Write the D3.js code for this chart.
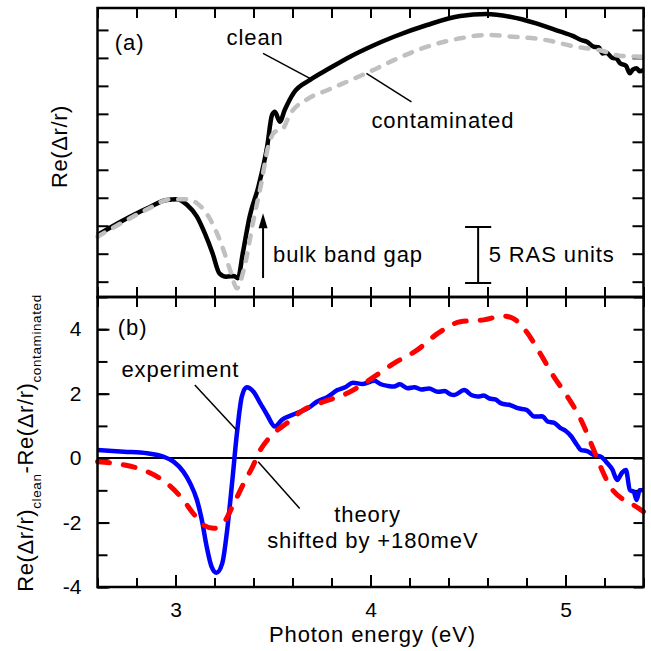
<!DOCTYPE html>
<html>
<head>
<meta charset="utf-8">
<script src="https://cdn.jsdelivr.net/npm/d3@7"></script>
<style>
  body { margin: 0; background: #fff; }
  text { font-family: "Liberation Sans", Arial, sans-serif; fill: #000; }
</style>
</head>
<body>
<div id="chart"></div>
<script>
// ---- data ----
// (a) Re(dr/r) in RAS units, arbitrary offset
const cleanEnergy = [2.60, 2.735, 2.855, 2.955, 3.005, 3.06, 3.11, 3.15, 3.19, 3.225, 3.26, 3.30, 3.32, 3.345, 3.38, 3.425, 3.47, 3.495, 3.51, 3.535, 3.56, 3.605, 3.69, 3.79, 3.895, 4.00, 4.12, 4.29, 4.46, 4.595, 4.715, 4.85, 4.975, 5.04, 5.08, 5.11, 5.145, 5.17, 5.19, 5.21, 5.24, 5.26, 5.28, 5.31, 5.33, 5.345, 5.365, 5.38, 5.40];
const cleanValue  = [4.17, 5.51, 6.56, 7.30, 7.36, 6.85, 5.81, 4.33, 2.54, 0.75, 0.45, 0.51, 0.30, 2.54, 5.81, 8.49, 12.06, 14.90, 15.19, 14.30, 15.34, 16.84, 18.03, 19.07, 20.11, 21.00, 21.89, 22.94, 23.74, 23.92, 23.68, 23.09, 22.34, 21.95, 21.60, 21.45, 21.00, 20.95, 20.40, 20.45, 20.00, 19.95, 19.52, 19.30, 18.62, 18.95, 19.07, 18.80, 18.92];

const contEnergy = [2.60, 2.735, 2.855, 2.975, 3.06, 3.11, 3.18, 3.24, 3.28, 3.315, 3.35, 3.40, 3.44, 3.475, 3.51, 3.545, 3.59, 3.675, 3.79, 3.91, 4.00, 4.12, 4.29, 4.46, 4.595, 4.73, 4.90, 5.05, 5.17, 5.29, 5.40];
const contValue  = [4.02, 5.36, 6.47, 7.36, 7.36, 7.01, 5.51, 3.13, 1.05, -0.59, 1.05, 5.51, 8.79, 12.06, 13.40, 13.56, 15.05, 16.30, 17.20, 18.10, 18.80, 19.80, 21.00, 21.75, 22.05, 21.89, 21.60, 21.00, 20.71, 20.17, 20.11];

// (b) difference clean - contaminated
const expEnergy = [2.60, 2.735, 2.855, 2.94, 2.99, 3.04, 3.075, 3.11, 3.135, 3.16, 3.185, 3.21, 3.24, 3.265, 3.29, 3.315, 3.34, 3.365, 3.40, 3.435, 3.47, 3.51, 3.545, 3.62, 3.68, 3.725, 3.78, 3.83, 3.87, 3.91, 3.96, 4.02, 4.05, 4.09, 4.12, 4.15, 4.19, 4.225, 4.26, 4.30, 4.345, 4.38, 4.41, 4.43, 4.48, 4.52, 4.55, 4.58, 4.61, 4.64, 4.67, 4.72, 4.755, 4.80, 4.84, 4.88, 4.91, 4.94, 4.975, 5.00, 5.03, 5.06, 5.08, 5.11, 5.145, 5.18, 5.215, 5.24, 5.265, 5.29, 5.31, 5.33, 5.35, 5.365, 5.38, 5.40];
const expValue  = [0.25, 0.20, 0.15, 0.04, -0.11, -0.42, -0.78, -1.30, -1.92, -2.75, -3.37, -3.56, -3.26, -2.23, -0.78, 0.77, 1.91, 2.20, 2.06, 1.70, 1.34, 0.98, 1.18, 1.39, 1.55, 1.75, 1.90, 2.11, 2.20, 2.34, 2.30, 2.40, 2.30, 2.24, 2.22, 2.29, 2.17, 2.20, 2.13, 2.16, 2.06, 2.08, 1.98, 1.96, 2.11, 1.95, 1.91, 1.94, 1.85, 1.82, 1.70, 1.64, 1.55, 1.50, 1.29, 1.30, 1.13, 1.10, 0.93, 0.85, 0.67, 0.40, 0.25, 0.22, 0.10, 0.05, -0.16, -0.35, -0.68, -0.45, -0.37, -0.99, -1.05, -1.30, -1.00, -0.99];

const theoryEnergy = [2.60, 2.735, 2.855, 2.955, 3.04, 3.09, 3.145, 3.195, 3.245, 3.30, 3.35, 3.395, 3.435, 3.495, 3.57, 3.655, 3.76, 3.88, 4.00, 4.12, 4.24, 4.345, 4.46, 4.58, 4.68, 4.73, 4.80, 4.87, 4.94, 5.01, 5.08, 5.145, 5.18, 5.23, 5.30, 5.35, 5.40];
const theoryValue  = [-0.11, -0.21, -0.42, -0.78, -1.30, -1.71, -2.08, -2.18, -2.02, -1.40, -0.78, -0.27, 0.25, 0.72, 1.08, 1.49, 1.75, 2.01, 2.45, 2.94, 3.36, 3.87, 4.23, 4.29, 4.41, 4.34, 3.92, 3.25, 2.53, 1.91, 1.18, 0.25, -0.27, -0.89, -1.30, -1.46, -1.66];

// ticks
const xMinorTicks = d3.range(2.6, 5.401, 0.2);
const xLabelTicks = [3, 4, 5];
const topYTicks = d3.range(0, 22.6, 2.5);
const botYMinorTicks = d3.range(-4, 5.01, 1);
const botYLabelTicks = [-4, -2, 0, 2, 4];

/**
 * Basic settings
 */
const canvasWidth = 651;
const canvasHeight = 651;
const plotLeft = 97.5, plotRight = 643.5, plotTop = 8, plotMid = 297, plotBottom = 587;

const svg = d3.select("#chart")
  .append("svg")
  .attr("width", canvasWidth)
  .attr("height", canvasHeight);

const x = d3.scaleLinear().domain([2.6, 5.4]).range([plotLeft, plotRight]);
const yTop = d3.scaleLinear().domain([-1.37, 24.46]).range([plotMid, plotTop]);
const yBot = d3.scaleLinear().domain([-4, 5]).range([plotBottom, plotMid]);

function zip(a, b) { return a.map((e, i) => [e, b[i]]); }

function styleAxis(g) {
  g.select(".domain").remove();
  g.selectAll(".tick line").attr("stroke", "#000").attr("stroke-width", 2);
  g.selectAll(".tick text").attr("font-size", 21).attr("fill", "#000")
    .attr("font-family", "'Liberation Sans', Arial, sans-serif");
}

// ---- axes ticks (inward) ----
function xTicksAt(y, dir, size) {
  const ax = dir === "up" ? d3.axisBottom(x) : d3.axisTop(x);
  svg.append("g")
    .attr("transform", "translate(0," + y + ")")
    .call(ax.tickValues(xMinorTicks).tickSize(-size).tickFormat(""))
    .call(styleAxis);
}
xTicksAt(plotTop, "down", 10);
xTicksAt(plotMid, "up", 10);
xTicksAt(plotMid, "down", 10);
xTicksAt(plotBottom, "up", 9);

// labeled bottom axis
svg.append("g")
  .attr("transform", "translate(0," + plotBottom + ")")
  .call(d3.axisBottom(x).tickValues(xLabelTicks).tickSize(-12).tickPadding(15).tickFormat(d => String(d)))
  .call(styleAxis);

// top panel y ticks
svg.append("g").attr("transform", "translate(" + plotLeft + ",0)")
  .call(d3.axisLeft(yTop).tickValues(topYTicks).tickSize(-11).tickFormat(""))
  .call(styleAxis);
svg.append("g").attr("transform", "translate(" + plotRight + ",0)")
  .call(d3.axisRight(yTop).tickValues(topYTicks).tickSize(-11).tickFormat(""))
  .call(styleAxis);

// bottom panel y ticks
svg.append("g").attr("transform", "translate(" + plotLeft + ",0)")
  .call(d3.axisLeft(yBot).tickValues(botYMinorTicks).tickSize(-10).tickFormat(""))
  .call(styleAxis);
svg.append("g").attr("transform", "translate(" + plotRight + ",0)")
  .call(d3.axisRight(yBot).tickValues(botYMinorTicks).tickSize(-10).tickFormat(""))
  .call(styleAxis);
svg.append("g").attr("transform", "translate(" + plotLeft + ",0)")
  .call(d3.axisLeft(yBot).tickValues(botYLabelTicks).tickSize(-12).tickPadding(16).tickFormat(d => String(d)))
  .call(styleAxis);

// zero line
svg.append("line")
  .attr("x1", plotLeft).attr("x2", plotRight)
  .attr("y1", yBot(0)).attr("y2", yBot(0))
  .attr("stroke", "#000").attr("stroke-width", 2);

// ---- curves ----
function drawLine(yScale, data, color, dash, width) {
  svg.append("path")
    .datum(data)
    .attr("fill", "none")
    .attr("stroke", color)
    .attr("stroke-width", width)
    .attr("stroke-linecap", dash ? "round" : "butt")
    .attr("stroke-linejoin", "round")
    .attr("stroke-dasharray", dash)
    .attr("d", d3.line()
      .x(d => x(d[0]))
      .y(d => yScale(d[1]))
      .curve(d3.curveMonotoneX));
}

drawLine(yTop, zip(cleanEnergy, cleanValue), "#000", null, 4.5);
drawLine(yTop, zip(contEnergy, contValue), "#c0c0c0", "8,10", 4.5);
drawLine(yBot, zip(expEnergy, expValue), "#0000ff", null, 4.5);
drawLine(yBot, zip(theoryEnergy, theoryValue), "#ff0000", "12,14", 5);

// frames
svg.append("rect").attr("x", plotLeft).attr("y", plotTop).attr("width", plotRight - plotLeft).attr("height", plotMid - plotTop)
  .attr("fill", "none").attr("stroke", "#000").attr("stroke-width", 2.5);
svg.append("rect").attr("x", plotLeft).attr("y", plotMid).attr("width", plotRight - plotLeft).attr("height", plotBottom - plotMid)
  .attr("fill", "none").attr("stroke", "#000").attr("stroke-width", 2.5);

// ---- annotations ----
function label(str, e, v, yScale, anchor) {
  svg.append("text")
    .attr("x", x(e)).attr("y", yScale(v))
    .attr("font-size", 22)
    .attr("letter-spacing", 0.9)
    .attr("text-anchor", anchor || "start")
    .text(str);
}
function pointer(e1, v1, e2, v2, yScale) {
  svg.append("line")
    .attr("x1", x(e1)).attr("y1", yScale(v1))
    .attr("x2", x(e2)).attr("y2", yScale(v2))
    .attr("stroke", "#000").attr("stroke-width", 1.5);
}

label("(a)", 2.689, 20.7, yTop);
label("clean", 3.262, 21.15, yTop);
pointer(3.449, 20.41, 3.689, 18.17, yTop);
label("contaminated", 4.005, 13.73, yTop);
pointer(3.979, 18.62, 4.21, 16.08, yTop);

// bulk band gap arrow
svg.append("line")
  .attr("x1", x(3.449)).attr("x2", x(3.449))
  .attr("y1", yTop(0.33)).attr("y2", yTop(5))
  .attr("stroke", "#000").attr("stroke-width", 2);
svg.append("path")
  .attr("d", "M" + x(3.449) + "," + yTop(6.11) + " l-4.5,15 l9,0 z")
  .attr("fill", "#000");
label("bulk band gap", 3.50, 1.79, yTop);

// scale bar
const barE = 4.552, barLo = -0.12, barHi = 4.88, capW = 0.067;
svg.append("path")
  .attr("d", "M" + x(barE) + "," + yTop(barLo) + "V" + yTop(barHi)
    + "M" + x(barE - capW) + "," + yTop(barLo) + "H" + x(barE + capW)
    + "M" + x(barE - capW) + "," + yTop(barHi) + "H" + x(barE + capW))
  .attr("stroke", "#000").attr("stroke-width", 2).attr("fill", "none");
label("5 RAS units", 4.606, 1.79, yTop);

label("(b)", 2.704, 3.82, yBot);
label("experiment", 2.723, 2.53, yBot);
pointer(3.099, 2.27, 3.313, 0.87, yBot);
pointer(3.424, -0.11, 3.637, -1.56, yBot);
label("theory", 3.985, -1.97, yBot, "middle");
label("shifted by +180meV", 4.012, -2.80, yBot, "middle");

// axis titles
svg.append("text")
  .attr("x", (plotLeft + plotRight) / 2 + 2)
  .attr("y", 641.7)
  .attr("font-size", 22)
  .attr("letter-spacing", 0.9)
  .attr("text-anchor", "middle")
  .text("Photon energy (eV)");

svg.append("text")
  .attr("transform", "translate(67," + ((plotTop + plotMid) / 2 - 6) + ") rotate(-90)")
  .attr("font-size", 22)
  .attr("letter-spacing", 0.6)
  .attr("text-anchor", "middle")
  .text("Re(\u0394r/r)");

const botTitle = svg.append("text")
  .attr("transform", "translate(33," + ((plotMid + plotBottom) / 2 + 1) + ") rotate(-90)")
  .attr("font-size", 22)
  .attr("letter-spacing", 0.6)
  .attr("text-anchor", "middle");
botTitle.append("tspan").text("Re(\u0394r/r)");
botTitle.append("tspan").attr("font-size", 13.5).attr("dy", 8).text("clean");
botTitle.append("tspan").attr("dy", -8).text("-Re(\u0394r/r)");
botTitle.append("tspan").attr("font-size", 13.5).attr("dy", 8).text("contaminated");
</script>
</body>
</html>
